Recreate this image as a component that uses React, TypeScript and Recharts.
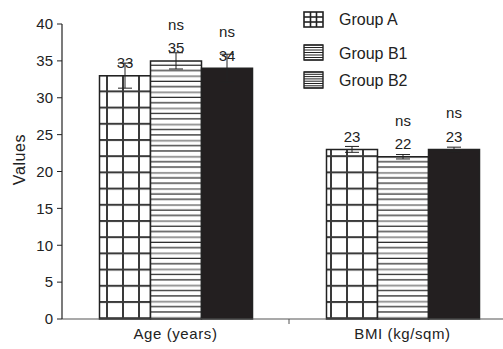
import React from 'react'
import { BarChart, Bar, XAxis, YAxis, ErrorBar, LabelList, Legend } from 'recharts'

const categories = ['Age (years)', 'BMI (kg/sqm)']
const groupA = [33, 23]
const groupB1 = [35, 22]
const groupB2 = [34, 23]
const errA = [1.7, 0.4]
const errB1 = [1.1, 0.3]
const errB2 = [1.9, 0.3]
const noteB1 = ['ns', 'ns']
const noteB2 = ['ns', 'ns']
const yTicks = [0, 5, 10, 15, 20, 25, 30, 35, 40]
const seriesNames = ['Group A', 'Group B1', 'Group B2']

const FONT = '"Liberation Sans", Arial, sans-serif'
const INK = '#222'

const data = categories.map((name, i) => ({
  name,
  a: groupA[i],
  b1: groupB1[i],
  b2: groupB2[i],
  errA: errA[i],
  errB1: errB1[i],
  errB2: errB2[i],
}))

// value above the bar, optional "ns" above that
function makeLabel(notes: (string | null)[]) {
  return (props: any) => {
    const { x, y, width, value, index } = props
    const cx = x + width / 2
    const note = notes[index]
    return (
      <g>
        <text x={cx} y={y - 7.5} textAnchor="middle" fontSize={15} fill={INK} fontFamily={FONT}>
          {value}
        </text>
        {note && (
          <text x={cx} y={y - 31} textAnchor="middle" fontSize={15} fill={INK} fontFamily={FONT}>
            {note}
          </text>
        )}
      </g>
    )
  }
}

function LegendIcon({ kind }: { kind: number }) {
  if (kind === 0) {
    return (
      <svg width={21} height={17} style={{ display: 'block' }}>
        <rect x={1} y={1} width={19} height={15} fill="#fff" stroke={INK} strokeWidth={1.6} />
        <line x1={7.5} x2={7.5} y1={1} y2={16} stroke={INK} strokeWidth={1.6} />
        <line x1={13.5} x2={13.5} y1={1} y2={16} stroke={INK} strokeWidth={1.6} />
        <line x1={1} x2={20} y1={6} y2={6} stroke={INK} strokeWidth={1.6} />
        <line x1={1} x2={20} y1={11} y2={11} stroke={INK} strokeWidth={1.6} />
      </svg>
    )
  }
  const rows = kind === 1 ? [1, 3.5, 6, 8.5, 11, 13.5, 16] : [1, 3.3, 5.6, 7.9, 10.2, 12.5, 14.8, 17]
  return (
    <svg width={21} height={18} style={{ display: 'block' }}>
      <rect x={1} y={1} width={19} height={rows[rows.length - 1] - 1} fill="#fff" stroke={INK} strokeWidth={1.4} />
      {rows.map((r) => (
        <line key={r} x1={1} x2={20} y1={r} y2={r} stroke={INK} strokeWidth={1} />
      ))}
    </svg>
  )
}

const legendTops = [11, 44, 71]

function renderLegend() {
  return (
    <div style={{ position: 'relative', width: 140, height: 90, fontFamily: FONT }}>
      {seriesNames.map((n, i) => (
        <div
          key={n}
          style={{ position: 'absolute', left: 0, top: legendTops[i], display: 'flex', alignItems: 'center' }}
        >
          <LegendIcon kind={i} />
          <span style={{ marginLeft: 15, fontSize: 16, color: INK, lineHeight: '17px' }}>{n}</span>
        </div>
      ))}
    </div>
  )
}

// category label at the band centre, plus a small tick at the band boundary
function CategoryTick(props: any) {
  const { x, y, payload, index } = props
  const edge = x + (payload.offset || 0)
  return (
    <g>
      {index < categories.length - 1 && (
        <line x1={edge} x2={edge} y1={y - 8} y2={y - 3} stroke="#555" strokeWidth={1} />
      )}
      <text x={x} y={y} dy={12} textAnchor="middle" fontSize={15} fill={INK} fontFamily={FONT} letterSpacing={0.6}>
        {payload.value}
      </text>
    </g>
  )
}

export default function App() {
  return (
    <div
      style={{
        position: 'fixed',
        left: 0,
        top: 0,
        width: 503,
        height: 349,
        overflow: 'hidden',
        background: '#fff',
      }}
    >
      <BarChart
        width={520}
        height={349}
        data={data}
        margin={{ top: 24, right: 4, bottom: 0, left: 0 }}
        barCategoryGap={37.5}
        barGap={0}
      >
        <defs>
          <pattern id="gridA" patternUnits="userSpaceOnUse" x={106} y={301} width={16} height={16.2}>
            <rect width={16} height={16.2} fill="#fff" />
            <rect x={0} y={0} width={2} height={16.2} fill="#3a3a3a" />
            <rect x={0} y={0} width={16} height={2} fill="#3a3a3a" />
          </pattern>
          <pattern id="linesB1" patternUnits="userSpaceOnUse" x={0} y={300.7} width={20} height={16.1}>
            <rect width={20} height={16.1} fill="#fff" />
            <rect x={0} y={0} width={20} height={2} fill="#9a9a9a" />
            <rect x={0} y={5.4} width={20} height={1.2} fill="#222" />
            <rect x={0} y={10.7} width={20} height={1.2} fill="#222" />
          </pattern>
        </defs>
        <XAxis
          dataKey="name"
          height={30}
          interval={0}
          tickLine={false}
          axisLine={{ stroke: '#555', strokeWidth: 1.2 }}
          tick={<CategoryTick />}
        />
        <YAxis
          width={62}
          domain={[0, 40]}
          ticks={yTicks}
          tickSize={5}
          tickMargin={4}
          interval={0}
          axisLine={{ stroke: INK, strokeWidth: 1.2 }}
          tickLine={{ stroke: INK }}
          tick={{ fontSize: 15, fill: INK, fontFamily: FONT }}
          label={({ viewBox }: any) => (
            <text
              x={viewBox.x + 19}
              y={viewBox.y + viewBox.height / 2 - 12}
              transform={`rotate(-90, ${viewBox.x + 19}, ${viewBox.y + viewBox.height / 2 - 12})`}
              textAnchor="middle"
              dominantBaseline="central"
              fontSize={16}
              letterSpacing={0.6}
              fill={INK}
              fontFamily={FONT}
            >
              Values
            </text>
          )}
        />
        <Legend
          layout="horizontal"
          verticalAlign="middle"
          align="center"
          content={renderLegend}
          wrapperStyle={{ left: 303, top: 0, width: 140 }}
        />
        <Bar dataKey="a" name="Group A" fill="url(#gridA)" stroke={INK} strokeWidth={1.5} isAnimationActive={false}>
          <ErrorBar dataKey="errA" width={7} stroke={INK} strokeWidth={1} direction="y" />
          <LabelList dataKey="a" content={makeLabel([null, null])} />
        </Bar>
        <Bar dataKey="b1" name="Group B1" fill="url(#linesB1)" stroke={INK} strokeWidth={1.5} isAnimationActive={false}>
          <ErrorBar dataKey="errB1" width={7} stroke={INK} strokeWidth={1} direction="y" />
          <LabelList dataKey="b1" content={makeLabel(noteB1)} />
        </Bar>
        <Bar dataKey="b2" name="Group B2" fill="#231f20" stroke={INK} strokeWidth={1.5} isAnimationActive={false}>
          <ErrorBar dataKey="errB2" width={7} stroke={INK} strokeWidth={1} direction="y" />
          <LabelList dataKey="b2" content={makeLabel(noteB2)} />
        </Bar>
      </BarChart>
    </div>
  )
}
